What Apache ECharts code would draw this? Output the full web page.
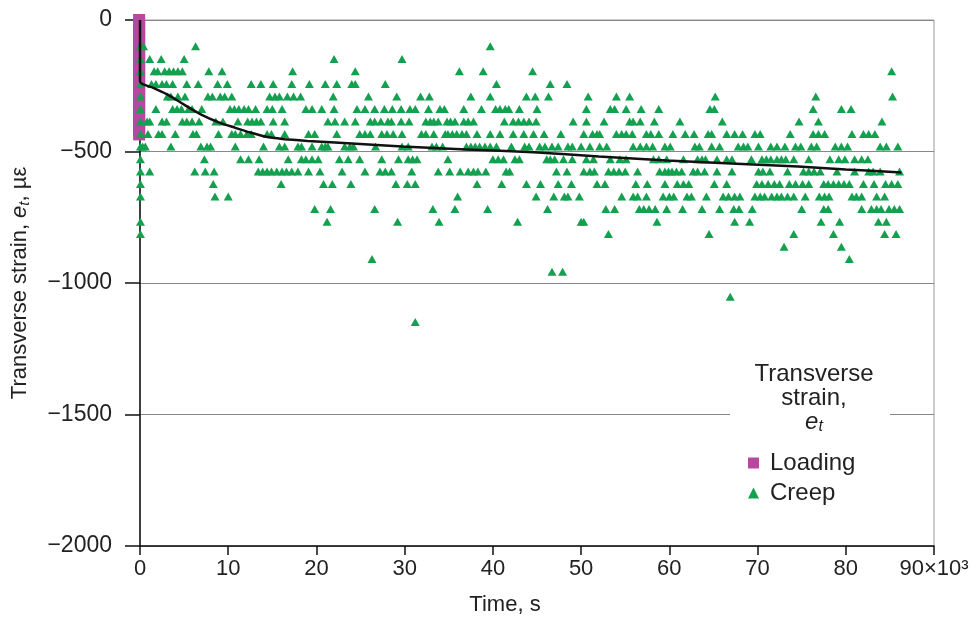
<!DOCTYPE html>
<html><head><meta charset="utf-8">
<script src="https://cdn.jsdelivr.net/npm/echarts/dist/echarts.min.js"></script>
<style>html,body{margin:0;padding:0;background:#fff}#c{width:979px;height:626px}</style>
</head><body><div id="c"></div><script>
// ---- data ----
const xTicks = [0,10,20,30,40,50,60,70,80,90];
const yTicks = [0,-500,-1000,-1500,-2000];
// Loading (time in 10^3 s, strain in µε)
const loadTime = [-0.1,-0.1,-0.1,-0.1,-0.1,-0.1,-0.1,-0.1,-0.1,-0.1,-0.1,-0.1,-0.1,-0.1,-0.1,-0.1,-0.1,-0.1,-0.1,-0.1,-0.1,-0.1,-0.1,-0.1,-0.1,-0.1,-0.1,-0.1,-0.1,-0.1];
const loadStrain = [0,-15,-30,-45,-60,-75,-90,-105,-120,-135,-150,-165,-180,-195,-210,-225,-240,-255,-270,-285,-300,-315,-330,-345,-360,-375,-390,-405,-420,-435];
// Creep: strain levels and the times (10^3 s) of readings at each level
const creepLevels = [-100,-148,-195,-243,-291,-338,-386,-433,-481,-529,-576,-624,-671,-719,-767,-814,-862,-909,-957,-1052,-1148];
const creepTimes = [
 [0.05,0.4,6.3,39.7],
 [0.05,1.1,2.4,5.0,22.0,29.7],
 [0.05,1.6,2.0,2.8,3.3,3.8,4.3,4.8,7.8,9.3,17.3,24.4,36.2,38.9,44.5,85.2],
 [0.05,1.3,1.8,2.5,3.0,3.7,5.3,6.6,8.8,9.9,12.6,13.7,15.1,17.2,19.2,21.0,22.3,24.0,24.4,27.8,40.4,46.5,48.4],
 [0.05,3.1,3.5,4.3,5.1,7.7,8.2,9.1,9.6,10.4,14.7,15.3,15.8,16.7,17.4,18.2,21.9,25.9,29.1,31.8,32.8,37.5,39.7,43.8,44.8,46.3,50.8,54.0,55.5,65.2,76.6,85.3],
 [0.05,1.8,3.7,4.2,4.7,5.5,5.9,7.0,10.2,10.7,11.2,11.8,12.3,13.1,14.4,15.0,16.1,18.8,19.5,20.6,22.0,24.6,25.5,26.6,27.7,28.6,29.6,30.6,31.2,32.7,34.0,34.5,36.7,38.7,40.3,40.8,41.4,41.8,43.0,45.0,50.6,53.3,53.8,55.1,56.8,58.8,64.6,65.1,76.3,79.5,80.6],
 [0.05,0.8,1.1,2.5,3.0,4.8,5.3,5.9,6.7,8.6,9.4,11.1,12.2,12.7,13.2,13.7,15.1,16.4,21.3,22.1,23.2,24.4,26.1,26.6,27.3,28.1,28.5,29.6,30.5,32.4,32.9,33.3,33.8,34.8,35.2,35.7,36.7,37.2,37.8,41.3,42.3,42.9,43.5,44.1,44.9,49.1,50.6,52.6,55.5,55.9,56.7,58.3,61.2,66.0,74.7,76.9,84.1],
 [0.05,0.9,2.1,2.5,4.0,6.0,6.4,8.9,10.4,10.8,11.4,12.1,12.6,14.4,14.9,16.4,19.1,19.8,22.3,24.9,25.5,26.1,27.4,28.0,28.7,29.7,31.9,32.4,33.3,34.6,34.9,35.4,35.9,36.5,37.0,38.2,39.7,40.8,42.3,43.5,44.6,45.8,47.7,50.3,51.3,51.8,52.1,54.0,54.6,55.1,55.8,57.4,57.9,58.8,60.4,61.8,62.8,64.4,64.8,66.5,67.4,68.3,69.7,70.3,73.7,76.3,76.9,77.6,80.7,82.0,82.6,83.3],
 [0.05,0.3,0.6,3.5,6.9,7.6,8.0,10.8,14.0,15.8,16.4,17.9,18.3,19.5,20.6,21.0,21.3,23.2,23.8,24.2,26.7,29.7,30.4,33.1,33.6,34.3,37.0,37.5,38.0,38.5,39.1,39.7,40.4,42.1,43.6,44.1,45.3,45.9,46.7,47.4,48.5,49.0,50.0,51.0,52.1,52.9,55.9,56.7,57.4,58.1,59.5,60.1,62.9,63.4,64.8,65.7,67.8,68.4,68.9,70.1,71.5,72.2,73.1,74.3,74.9,76.1,76.7,78.8,79.5,80.2,83.9,84.6,85.9],
 [0.05,7.3,11.4,12.3,13.5,16.8,18.3,18.8,19.5,20.2,22.6,23.6,24.9,27.4,29.3,30.4,30.9,31.4,34.9,40.0,40.6,41.2,42.5,43.0,46.1,46.5,47.0,48.0,49.0,50.6,51.4,53.3,54.4,55.1,58.2,58.8,59.7,61.6,63.2,63.7,64.1,65.4,66.5,67.1,69.3,70.5,71.0,71.5,72.2,72.7,73.2,74.1,75.8,78.2,79.2,79.9,81.0,81.8,82.5],
 [0.05,1.1,6.2,7.4,8.4,13.4,13.9,14.4,14.9,15.5,16.1,16.6,17.2,17.9,19.1,20.4,22.9,25.5,27.2,27.8,28.5,30.8,33.8,35.1,36.3,37.2,37.8,38.3,39.2,41.5,41.9,47.2,48.4,50.3,51.0,51.5,53.1,53.7,54.3,55.0,56.4,58.9,59.5,59.9,60.3,60.8,61.4,62.7,63.2,64.0,65.4,67.1,70.1,70.6,71.4,73.4,75.2,75.8,76.4,77.1,79.0,81.0,82.6,83.1,83.9,86.1],
 [0.05,8.3,16.0,20.8,21.8,23.9,29.0,30.3,31.2,38.2,41.0,43.8,45.4,47.4,48.9,51.8,52.7,56.2,57.5,59.5,60.9,61.6,62.2,65.1,66.5,69.9,70.5,71.2,71.9,72.5,73.6,74.3,75.1,75.8,77.5,78.0,78.6,79.2,79.8,80.4,82.0,83.2,84.5,85.2,85.9],
 [0.05,8.5,10.0,36.0,44.9,46.9,48.1,48.5,49.8,54.6,55.9,56.4,57.4,59.3,60.0,60.5,62.0,62.5,64.2,66.1,66.7,67.4,68.0,69.7,70.3,70.8,71.6,72.2,72.7,73.4,74.1,75.4,77.0,77.6,78.1,80.7,81.2,81.8,83.5,84.4],
 [19.8,21.6,26.6,33.2,35.7,39.4,46.2,52.8,53.8,56.6,57.1,57.7,58.4,59.7,61.5,63.7,65.7,67.3,67.9,69.4,75.0,77.5,78.0,81.8,82.9,83.5,84.0,84.9,85.5,86.1],
 [0.05,21.2,29.2,33.9,42.8,50.0,50.3,58.6,67.4,69.1,77.2,79.3,83.7,84.6],
 [0.05,53.1,64.5,74.1,78.6,84.4,85.7],
 [73.0,79.5],
 [26.3,80.4],
 [46.7,47.9],
 [66.9],
 [31.2]
];
// Fitted trend line
const fitTime = [0,0,1.5,3.2,5,7,9,10.8,12.5,13.8,15,16.4,19,22.1,29.7,37,44.6,52,59.7,67,74.6,80,86.3];
const fitStrain = [0,-234,-258,-285,-322,-361,-390,-410,-428,-440,-448,-453,-460,-466,-481,-492,-503,-519,-534,-546,-557,-568,-580];

// ---- build ----
const FONT = 'Liberation Sans, Arial, sans-serif';
const TXT = '#222';
const loadData = loadTime.map((t,i)=>[t, loadStrain[i]]);
const creepData = [];
creepLevels.forEach((lv,i)=>creepTimes[i].forEach(t=>creepData.push([t, lv])));
const fitData = fitTime.map((t,i)=>[t, fitStrain[i]]);
const GREEN = '#13a04f', MAGENTA = '#b8489f';

const chart = echarts.init(document.getElementById('c'), null, {renderer:'canvas'});
chart.setOption({
  animation:false,
  backgroundColor:'#fff',
  textStyle:{fontFamily:FONT},
  grid:{left:140,right:45,top:20,bottom:80,show:true,borderColor:'#999',borderWidth:1},
  xAxis:{type:'value',min:xTicks[0],max:xTicks[xTicks.length-1],interval:10,
    name:'Time, s',nameLocation:'middle',nameGap:48,
    nameTextStyle:{fontSize:22,color:TXT,fontFamily:FONT,padding:[0,64,0,0]},
    axisLine:{onZero:false,lineStyle:{color:'#111',width:1.5}},
    axisTick:{length:9,lineStyle:{color:'#111',width:1.5}},
    axisLabel:{fontSize:22,color:TXT,fontFamily:FONT,margin:12,
      formatter:v=> v===90 ? '90×10³' : String(v)},
    splitLine:{show:false}},
  yAxis:{type:'value',min:yTicks[yTicks.length-1],max:yTicks[0],interval:500,
    name:'Transverse strain, {i|e}{s|t}, µε',nameLocation:'middle',nameGap:108,
    nameTextStyle:{fontSize:22,color:TXT,fontFamily:FONT,
      rich:{i:{fontSize:22,fontStyle:'italic',color:TXT,fontFamily:FONT},
            s:{fontSize:15,fontStyle:'italic',color:TXT,fontFamily:FONT,padding:[10,0,0,0]}}},
    axisLine:{show:true,onZero:false,lineStyle:{color:'#111',width:1.5}},
    axisTick:{show:true,length:15,lineStyle:{color:'#111',width:1.5}},
    axisLabel:{fontSize:23,color:TXT,fontFamily:FONT,margin:28,
      formatter:v=>String(v).replace('-','\u2212')},
    splitLine:{show:true,lineStyle:{color:'#888',width:1}}},
  legend:{orient:'vertical',left:743,top:446,itemWidth:11,itemHeight:11,itemGap:6,
    backgroundColor:'transparent',
    textStyle:{fontSize:24,color:TXT,fontFamily:FONT,padding:[0,0,0,6]},
    data:[{name:'Loading',icon:'rect'},{name:'Creep',icon:'triangle'}]},
  graphic:[
    {type:'rect',z:3,shape:{x:730,y:360,width:160,height:148},style:{fill:'#fff'}},
    {type:'text',z:5,x:814,y:362,style:{
      text:'Transverse\nstrain,\n{i|e}{s|t}',textAlign:'center',
      font:'24px '+FONT,fill:TXT,lineHeight:24,
      rich:{i:{fontSize:24,fontStyle:'italic',fill:TXT,fontFamily:FONT,lineHeight:24},
            s:{fontSize:16,fontStyle:'italic',fill:TXT,fontFamily:FONT,padding:[10,0,0,0],lineHeight:24}}}}
  ],
  series:[
    {name:'Loading',type:'scatter',data:loadData,symbol:'rect',symbolSize:12,clip:false,
      itemStyle:{color:MAGENTA,opacity:1},z:2},
    {name:'Creep',type:'scatter',data:creepData,symbol:'triangle',symbolSize:[9,8],clip:false,
      itemStyle:{color:GREEN,opacity:1},z:3},
    {name:'Fit',type:'line',data:fitData,showSymbol:false,smooth:0.25,clip:false,
      lineStyle:{color:'#111',width:2.5},z:4}
  ]
});
</script></body></html>
